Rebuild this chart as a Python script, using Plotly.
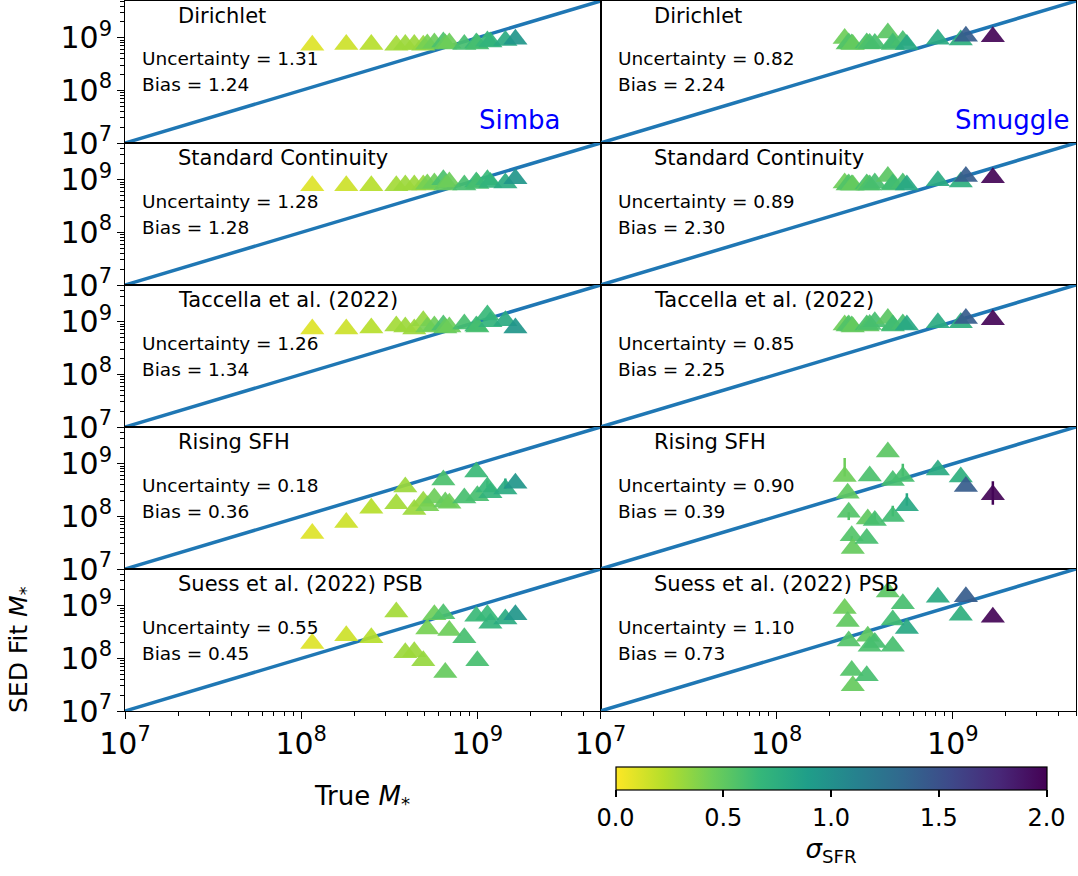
import numpy as np
import plotly.graph_objects as go
from plotly.colors import sample_colorscale

# ---------------- data ----------------
axis_limits = [1e7, 5e9]          # both axes; also the 1:1 line end points
one_to_one = [1e7, 5e9]

# Simba galaxies: log10 true stellar mass and sigma_SFR
simba_log_true = [8.063, 8.256, 8.398, 8.540, 8.591, 8.642, 8.693, 8.716, 8.756, 8.807,
                  8.818, 8.841, 8.926, 8.994, 9.000, 9.057, 9.074, 9.159, 9.216]
simba_sigma = [0.10, 0.15, 0.22, 0.28, 0.30, 0.30, 0.32, 0.42, 0.45, 0.58,
               0.48, 0.45, 0.60, 0.65, 0.60, 0.66, 0.70, 0.78, 0.95]

# Smuggle galaxies
smuggle_log_true = [8.386, 8.403, 8.409, 8.426, 8.432, 8.511, 8.517, 8.528, 8.557, 8.631,
                    8.659, 8.659, 8.716, 8.739, 8.915, 9.045, 9.074, 9.227]
smuggle_sigma = [0.45, 0.50, 0.55, 0.55, 0.48, 0.60, 0.50, 0.58, 0.60, 0.52,
                 0.60, 0.62, 0.60, 0.80, 0.78, 0.74, 1.42, 1.98]

# SED-fit log10 stellar masses, per SFH prior
simba_dirichlet = [8.856, 8.87, 8.87, 8.856, 8.87, 8.87, 8.86, 8.88, 8.90, 8.92,
                   8.88, 8.90, 8.87, 8.90, 8.88, 8.94, 8.92, 8.95, 8.97]
simba_continuity = [8.885, 8.885, 8.885, 8.885, 8.90, 8.90, 8.90, 8.92, 8.94, 9.00,
                    8.90, 8.96, 8.90, 8.96, 8.93, 9.00, 8.95, 8.94, 9.02]
simba_tacchella = [8.865, 8.865, 8.88, 8.92, 8.90, 8.865, 9.02, 8.90, 8.92, 8.94,
                   8.88, 8.90, 8.96, 8.92, 8.90, 9.13, 9.00, 9.02, 8.88]
simba_rising = [7.673, 7.885, 8.154, 8.24, 8.56, 8.13, 8.29, 8.20, 8.35, 8.69,
                8.275, 8.25, 8.35, 8.846, 8.39, 8.56, 8.45, 8.52, 8.63]
simba_suess = [8.285, 8.43, 8.39, 8.88, 8.106, 8.125, 7.955, 8.56, 8.83, 8.85,
               7.73, 8.53, 8.39, 8.80, 7.955, 8.83, 8.67, 8.75, 8.83]

smuggle_dirichlet = [8.985, 8.88, 8.90, 8.88, 8.87, 8.90, 8.88, 8.89, 8.89, 9.09,
                     8.87, 8.90, 8.95, 8.87, 8.97, 8.96, 9.03, 9.02]
smuggle_continuity = [8.94, 8.90, 8.92, 8.90, 8.90, 8.92, 8.90, 8.90, 8.94, 9.06,
                      8.90, 8.92, 8.94, 8.90, 8.98, 8.96, 9.06, 9.04]
smuggle_tacchella = [8.94, 8.92, 8.94, 8.92, 8.90, 8.94, 8.92, 8.95, 9.00, 9.06,
                     8.94, 8.92, 8.96, 8.94, 8.98, 8.98, 9.06, 9.04]
smuggle_rising = [8.76, 8.44, 8.08, 7.63, 7.39, 7.58, 7.95, 8.77, 7.92, 9.225,
                  8.68, 8.00, 8.76, 8.20, 8.88, 8.75, 8.57, 8.41]
smuggle_suess = [8.95, 8.70, 8.33, 7.77, 7.48, 7.67, 8.42, 8.23, 8.30, 9.26,
                 8.23, 8.73, 9.04, 8.57, 9.16, 8.82, 9.17, 8.78]

# errors (dex) – only visible ones
simba_rising_err_up = [0] * 15 + [0.12, 0, 0.20, 0]
smuggle_rising_err_up = [0.35, 0, 0, 0, 0, 0, 0, 0, 0.15, 0, 0, 0.20, 0.24, 0.24, 0, 0, 0, 0.26]
smuggle_rising_err_dn = [0, 0, 0.15, 0.10, 0, 0, 0, 0, 0, 0, 0, 0, 0, 0, 0, 0, 0, 0.19]

prior_names = ["Dirichlet", "Standard Continuity", "Taccella et al. (2022)",
               "Rising SFH", "Suess et al. (2022) PSB"]
simba_uncertainty = ["1.31", "1.28", "1.26", "0.18", "0.55"]
simba_bias = ["1.24", "1.28", "1.34", "0.36", "0.45"]
smuggle_uncertainty = ["0.82", "0.89", "0.85", "0.90", "1.10"]
smuggle_bias = ["2.24", "2.30", "2.25", "0.39", "0.73"]
sim_names = ["Simba", "Smuggle"]
cbar_ticks = [0.0, 0.5, 1.0, 1.5, 2.0]

simba_fits = [simba_dirichlet, simba_continuity, simba_tacchella, simba_rising, simba_suess]
smuggle_fits = [smuggle_dirichlet, smuggle_continuity, smuggle_tacchella, smuggle_rising, smuggle_suess]

# ---------------- layout geometry ----------------
W, H = 1078, 876
ML, MR, MT, MB = 125, 2, 1, 165
PW, PH = W - ML - MR, H - MT - MB
FONT = "DejaVu Sans"
LINE = "#1f77b4"

def px_x(px):
    return (px - ML) / PW

def px_y(py):
    return (H - MB - py) / PH

fig = go.Figure()
layout_axes = {}
lo, hi = np.log10(axis_limits)
nrows = 5

for col in range(2):
    for row in range(nrows):
        idx = row * 2 + col + 1
        xa = "x" if idx == 1 else f"x{idx}"
        ya = "y" if idx == 1 else f"y{idx}"
        xdom = [0, 0.5] if col == 0 else [0.5, 1]
        ydom = [1 - (row + 1) / nrows, 1 - row / nrows]
        bottom = row == nrows - 1
        layout_axes["xaxis" if idx == 1 else f"xaxis{idx}"] = dict(
            type="log", range=[lo, hi], domain=xdom, anchor=ya,
            showgrid=False, zeroline=False, showline=True, mirror=True,
            linecolor="black", linewidth=1.3,
            ticks="outside" if bottom else "", ticklen=7, tickwidth=1.3, tickcolor="black",
            showticklabels=bottom, dtick=1, exponentformat="power",
            tickfont=dict(family=FONT, size=24, color="black"),
            minor=dict(ticks="outside", ticklen=4, tickwidth=1, tickcolor="black", dtick="D1", showgrid=False) if bottom else dict(ticks=""),
        )
        layout_axes["yaxis" if idx == 1 else f"yaxis{idx}"] = dict(
            type="log", range=[lo, hi], domain=ydom, anchor=xa,
            showgrid=False, zeroline=False, showline=True, mirror=True,
            linecolor="black", linewidth=1.3,
            ticks="outside" if col == 0 else "", ticklen=7, tickwidth=1.3, tickcolor="black",
            showticklabels=(col == 0), dtick=1, exponentformat="power",
            tickfont=dict(family=FONT, size=24, color="black"),
            minor=dict(ticks="outside", ticklen=4, tickwidth=1, tickcolor="black", dtick="D1", showgrid=False) if col == 0 else dict(ticks=""),
        )

        # 1:1 line
        fig.add_trace(go.Scatter(x=one_to_one, y=one_to_one, mode="lines",
                                 line=dict(color=LINE, width=3.5), xaxis=xa, yaxis=ya,
                                 showlegend=False, hoverinfo="skip", cliponaxis=True))

        if col == 0:
            logx, sig, fits = simba_log_true, simba_sigma, simba_fits
        else:
            logx, sig, fits = smuggle_log_true, smuggle_sigma, smuggle_fits
        logy = fits[row]
        xs = [10 ** v for v in logx]
        ys = [10 ** v for v in logy]

        # error bars (rising panels)
        if row == 3:
            if col == 0:
                eup, edn = simba_rising_err_up, [0] * len(logx)
            else:
                eup, edn = smuggle_rising_err_up, smuggle_rising_err_dn
            cols = sample_colorscale("Viridis_r", [s / 2.0 for s in sig])
            for i in range(len(logx)):
                if eup[i] > 0 or edn[i] > 0:
                    yv = ys[i]
                    fig.add_trace(go.Scatter(
                        x=[xs[i]], y=[yv], mode="markers", marker=dict(size=1, opacity=0),
                        error_y=dict(type="data", symmetric=False,
                                     array=[10 ** (logy[i] + eup[i]) - yv],
                                     arrayminus=[yv - 10 ** (logy[i] - edn[i])],
                                     color=cols[i], thickness=2.5, width=0),
                        xaxis=xa, yaxis=ya, showlegend=False, hoverinfo="skip"))

        fig.add_trace(go.Scatter(
            x=xs, y=ys, mode="markers", xaxis=xa, yaxis=ya, showlegend=False,
            marker=dict(symbol="triangle-up", size=21, color=sig, coloraxis="coloraxis",
                        opacity=0.92, line=dict(width=0)),
        ))

        unc = simba_uncertainty if col == 0 else smuggle_uncertainty
        bia = simba_bias if col == 0 else smuggle_bias
        dref_x = f"{xa} domain"
        dref_y = f"{ya} domain"
        fig.add_annotation(text=prior_names[row], xref=dref_x, yref=dref_y,
                           x=51 / 475, y=1 - 15 / 142, xanchor="left", yanchor="middle",
                           showarrow=False, font=dict(family=FONT, size=21, color="black"))
        fig.add_annotation(text=f"Uncertainty = {unc[row]}", xref=dref_x, yref=dref_y,
                           x=15 / 475, y=1 - 58 / 142, xanchor="left", yanchor="middle",
                           showarrow=False, font=dict(family=FONT, size=18.5, color="black"))
        fig.add_annotation(text=f"Bias = {bia[row]}", xref=dref_x, yref=dref_y,
                           x=15 / 475, y=1 - 84 / 142, xanchor="left", yanchor="middle",
                           showarrow=False, font=dict(family=FONT, size=18.5, color="black"))
        if row == 0:
            fig.add_annotation(text=sim_names[col], xref=dref_x, yref=dref_y,
                               x=352 / 475, y=1 - 119 / 142, xanchor="left", yanchor="middle",
                               showarrow=False, font=dict(family=FONT, size=26, color="blue"))

# axis labels
fig.add_annotation(text="SED Fit <i>M</i><sub>*</sub>", xref="paper", yref="paper",
                   x=px_x(20), y=px_y(650), textangle=-90, showarrow=False,
                   xanchor="center", yanchor="middle",
                   font=dict(family=FONT, size=25, color="black"))
fig.add_annotation(text="True <i>M</i><sub>*</sub>", xref="paper", yref="paper",
                   x=px_x(362), y=px_y(797), showarrow=False,
                   xanchor="center", yanchor="middle",
                   font=dict(family=FONT, size=26, color="black"))

fig.update_layout(
    width=W, height=H,
    margin=dict(l=ML, r=MR, t=MT, b=MB),
    paper_bgcolor="white", plot_bgcolor="white",
    font=dict(family=FONT, color="black"),
    coloraxis=dict(
        colorscale="Viridis_r", cmin=0, cmax=2,
        colorbar=dict(
            orientation="h", x=px_x(831), xanchor="center",
            y=px_y(767), yanchor="top", xpad=0, ypad=0,
            lenmode="pixels", len=431, thickness=23,
            outlinewidth=1.2, outlinecolor="black",
            ticks="outside", ticklen=7, tickwidth=1.5, tickcolor="black",
            tickvals=cbar_ticks, ticktext=[f"{t:.1f}" for t in cbar_ticks],
            tickfont=dict(family=FONT, size=24, color="black"),
            title=dict(text="<i>σ</i><sub>SFR</sub>", side="bottom",
                       font=dict(family=FONT, size=26, color="black")),
        ),
    ),
    **layout_axes,
)

fig.write_html("out.html", config={"displayModeBar": False},
               post_script="document.body.style.margin='0';document.body.style.overflow='hidden';")
